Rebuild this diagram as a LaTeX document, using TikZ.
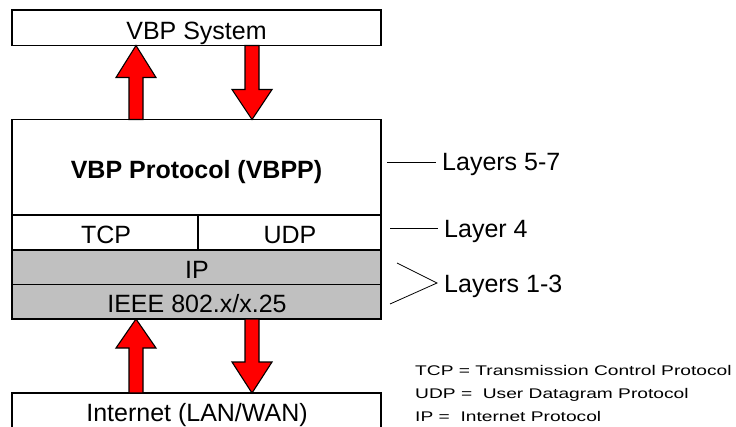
\documentclass[tikz,border=0pt]{standalone}
\usepackage{fontspec}
\setmainfont{Liberation Sans}
\usetikzlibrary{calc}
\definecolor{layergray}{HTML}{C0C0C0}
\definecolor{flowred}{HTML}{FF0000}
\tikzset{
  box/.style={draw=black, line width=1.4pt, rectangle, inner sep=0pt, outer sep=0pt,
    fill=white, minimum width=369pt},
  graybox/.style={box, fill=layergray},
  txt/.style={anchor=base, inner sep=0pt, font=\fontsize{25}{30}\selectfont},
  tag/.style={anchor=base west, inner sep=0pt, font=\fontsize{25}{30}\selectfont},
  note/.style={anchor=base west, inner sep=0pt, font=\fontsize{14}{16}\selectfont},
  flowarrow/.style={draw=black, line width=1.1pt, fill=flowred, line join=miter},
  tick/.style={draw=black, line width=0.8pt},
}
% Block arrow drawn from tail #1 to tip #2 (vertical); #3 = signed head length
\newcommand{\blockarrow}[3]{%
  \path[flowarrow] let \p1=#1, \p2=#2 in
    (\x1-7pt,\y1) -- (\x1-7pt,\y2-#3) -- (\x1-20pt,\y2-#3) -- (\x2,\y2)
    -- (\x1+20pt,\y2-#3) -- (\x1+7pt,\y2-#3) -- (\x1+7pt,\y1) -- cycle;}
\begin{document}
\begin{tikzpicture}[x=1pt, y=-1pt]
  \useasboundingbox (0,0) rectangle (736,426);

  % application box
  \node[box, minimum height=35.5pt] (sys) at (196.5,27.75) {};
  \node[txt] (systxt) at (196.5,39) {VBP System};

  % protocol stack
  \node[box, minimum height=95.5pt] (proto) at (196.5,167.25) {};
  \node[txt, font=\fontsize{25}{30}\selectfont\bfseries] (prototxt) at (196.5,178) {VBP Protocol (VBPP)};
  \node[box, minimum width=186pt, minimum height=35pt] (tcp) at (105,232.5) {};
  \node[box, minimum width=183pt, minimum height=35pt] (udp) at (289.5,232.5) {};
  \node[txt] (tcptxt) at (106,243) {TCP};
  \node[txt] (udptxt) at (290,243) {UDP};
  \node[graybox, minimum height=34.5pt] (ip) at (196.5,267.25) {};
  \node[txt] (iptxt) at (197,278) {IP};
  \node[graybox, minimum height=34.5pt] (ieee) at (196.5,301.75) {};
  \node[txt] (ieeetxt) at (197,312) {IEEE 802.x/x.25};

  % network box
  \node[box, minimum height=50pt] (inet) at (196.5,418) {};
  \node[txt] (inettxt) at (197,421) {Internet (LAN/WAN)};

  % arrow end points on the box edges
  \coordinate (upAtail) at ([xshift=124pt]proto.north west);
  \coordinate (upAtip)  at ([xshift=124pt]sys.south west);
  \coordinate (dnAtail) at ([xshift=240pt]sys.south west);
  \coordinate (dnAtip)  at ([xshift=240pt]proto.north west);
  \coordinate (upBtail) at ([xshift=124pt]inet.north west);
  \coordinate (upBtip)  at ([xshift=124pt]ieee.south west);
  \coordinate (dnBtail) at ([xshift=240pt]ieee.south west);
  \coordinate (dnBtip)  at ([xshift=240pt]inet.north west);

  \blockarrow{(upAtail)}{(upAtip)}{32pt}
  \blockarrow{(dnAtail)}{(dnAtip)}{-30pt}
  \blockarrow{(upBtail)}{(upBtip)}{29pt}
  \blockarrow{(dnBtail)}{(dnBtip)}{-31pt}

  % OSI layer tags
  \node[tag] (l57) at (442,170.5) {Layers 5-7};
  \node[tag] (l4)  at (444,237) {Layer 4};
  \node[tag] (l13) at (444,292) {Layers 1-3};
  \coordinate (l57a) at (387,162);
  \coordinate (l57b) at (436,162);
  \coordinate (l4a)  at (390,228);
  \coordinate (l4b)  at (438,228);
  \coordinate (l13a) at (397,263);
  \coordinate (l13b) at (437,283);
  \coordinate (l13c) at (390,304);
  \draw[tick] (l57a) -- (l57b);
  \draw[tick] (l4a) -- (l4b);
  \draw[tick] (l13a) -- (l13b) -- (l13c);

  % abbreviations
  \node[note] (n1) at (415,375) {\scalebox{1.37}[1]{TCP = Transmission Control Protocol}};
  \node[note] (n2) at (415,398) {\scalebox{1.37}[1]{UDP = \ User Datagram Protocol}};
  \node[note] (n3) at (415,421) {\scalebox{1.37}[1]{IP = \ Internet Protocol}};
\end{tikzpicture}
\end{document}
